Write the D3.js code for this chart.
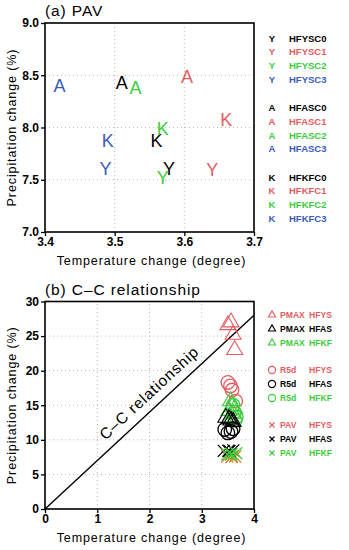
<!DOCTYPE html>
<html>
<head>
<meta charset="utf-8">
<script src="https://cdn.jsdelivr.net/npm/d3@7"></script>
<style>
  body { margin: 0; background: #fff; }
  text { font-family: "Liberation Sans", Arial, sans-serif; }
</style>
</head>
<body>
<div id="chart"></div>
<script>
// colours
const RED = "#e35d5f", GREEN = "#3ccc3c", BLUE = "#3a5cb8", BLACK = "#000";

// panel (a) PAV: letter markers (T, P)
const hfysT = [3.578, 3.640, 3.569, 3.487];
const hfysP = [7.60, 7.59, 7.52, 7.60];
const hfasT = [3.510, 3.604, 3.530, 3.421];
const hfasP = [8.43, 8.48, 8.375, 8.40];
const hfkfT = [3.560, 3.660, 3.569, 3.490];
const hfkfP = [7.87, 8.07, 7.99, 7.87];
const expColors = [BLACK, RED, GREEN, BLUE];

// panel (b) C-C relationship
const pmaxHfys = [[3.50, 26.6], [3.56, 27.0], [3.60, 25.2], [3.63, 23.0]];
const r5dHfys  = [[3.50, 18.3], [3.55, 17.8], [3.58, 17.2], [3.65, 15.6]];
const r5dHfkf  = [[3.62, 14.0], [3.66, 13.3], [3.60, 15.0], [3.64, 12.8]];
const pmaxHfkf = [[3.55, 15.6], [3.58, 14.8], [3.52, 14.2], [3.60, 13.8], [3.56, 13.2], [3.63, 14.5]];
const pmaxHfas = [[3.46, 13.2], [3.52, 13.0], [3.56, 12.8], [3.60, 12.6]];
const r5dHfas  = [[3.44, 11.5], [3.50, 11.0], [3.56, 11.2], [3.60, 11.6]];
const ccRate = 7; // % per degree

const svg = d3.select("#chart").append("svg")
  .attr("width", 349).attr("height", 550);

function frame(g, x, y, xTicks, yTicks, xFmt, yFmt) {
  const [x0, x1] = x.range(), [y0, y1] = y.range();
  // dotted grid
  g.selectAll(".gx").data(xTicks.slice(1, -1)).join("line")
    .attr("x1", d => x(d)).attr("x2", d => x(d)).attr("y1", y0).attr("y2", y1)
    .attr("stroke", "#b8b8b8").attr("stroke-dasharray", "1,3");
  g.selectAll(".gy").data(yTicks.slice(1, -1)).join("line")
    .attr("y1", d => y(d)).attr("y2", d => y(d)).attr("x1", x0).attr("x2", x1)
    .attr("stroke", "#b8b8b8").attr("stroke-dasharray", "1,3");

  const ax = g.append("g").attr("transform", `translate(0,${y0})`)
    .call(d3.axisBottom(x).tickValues(xTicks).tickFormat(xFmt).tickSize(4).tickPadding(1));
  const ay = g.append("g").attr("transform", `translate(${x0},0)`)
    .call(d3.axisLeft(y).tickValues(yTicks).tickFormat(yFmt).tickSize(4).tickPadding(2));
  [ax, ay].forEach(a => {
    a.select(".domain").remove();
    a.selectAll("line").attr("stroke-width", 1.3);
    a.selectAll("text").attr("font-size", 12).attr("font-weight", "bold").attr("fill", "#000");
  });
}

function box(g, x, y) {
  const [x0, x1] = x.range(), [y0, y1] = y.range();
  g.append("rect").attr("x", x0).attr("y", y1).attr("width", x1 - x0).attr("height", y0 - y1)
    .attr("fill", "none").attr("stroke", "#000").attr("stroke-width", 1.6);
}

function labels(g, title, tx, ty, x, y) {
  const [x0, x1] = x.range(), [y0, y1] = y.range();
  g.append("text").attr("x", tx).attr("y", ty).attr("font-size", 15.5)
    .attr("letter-spacing", 0.9).text(title);
  g.append("text").attr("x", (x0 + x1) / 2 + 2).attr("y", y0 + 33)
    .attr("text-anchor", "middle").attr("font-size", 12.5).attr("letter-spacing", 0.9)
    .text("Temperature change (degree)");
  g.append("text").attr("transform", `translate(16,${(y0 + y1) / 2}) rotate(-90)`)
    .attr("text-anchor", "middle").attr("font-size", 12.5).attr("letter-spacing", 0.9)
    .text("Precipitation change (%)");
}

// ---------- panel (a) ----------
const ga = svg.append("g");
const xa = d3.scaleLinear().domain([3.4, 3.7]).range([45, 254]);
const ya = d3.scaleLinear().domain([7.0, 9.0]).range([232, 23]);
frame(ga, xa, ya, [3.4, 3.5, 3.6, 3.7], [7.0, 7.5, 8.0, 8.5, 9.0], d3.format(".1f"), d3.format(".1f"));

const groupsA = [
  {sym: "Y", name: "HFYSC", T: hfysT, P: hfysP},
  {sym: "A", name: "HFASC", T: hfasT, P: hfasP},
  {sym: "K", name: "HFKFC", T: hfkfT, P: hfkfP}
];
groupsA.forEach(grp => {
  grp.T.forEach((t, i) => {
    ga.append("text").attr("x", xa(t)).attr("y", ya(grp.P[i]))
      .attr("text-anchor", "middle").attr("dominant-baseline", "central")
      .attr("font-size", 18).attr("fill", expColors[i]).text(grp.sym);
  });
});
box(ga, xa, ya);
labels(ga, "(a)  PAV", 45, 16, xa, ya);

// legend (a)
groupsA.forEach((grp, gi) => {
  expColors.forEach((c, i) => {
    const yy = 38 + gi * 69.5 + i * 13.8;
    ga.append("text").attr("x", 272).attr("y", yy).attr("text-anchor", "middle")
      .attr("dominant-baseline", "central").attr("font-size", 9.5).attr("font-weight", "bold")
      .attr("fill", c).text(grp.sym);
    ga.append("text").attr("x", 289).attr("y", yy)
      .attr("dominant-baseline", "central").attr("font-size", 9.5).attr("font-weight", "bold")
      .attr("fill", c).text(grp.name + i);
  });
});

// ---------- panel (b) ----------
const gb = svg.append("g");
const xb = d3.scaleLinear().domain([0, 4]).range([45, 254]);
const yb = d3.scaleLinear().domain([0, 30]).range([509, 301.5]);
frame(gb, xb, yb, [0, 1, 2, 3, 4], [0, 5, 10, 15, 20, 25, 30], d3.format("d"), d3.format("d"));

// C-C line
gb.append("line").attr("x1", xb(0)).attr("y1", yb(0)).attr("x2", xb(4)).attr("y2", yb(4 * ccRate))
  .attr("stroke", "#000").attr("stroke-width", 1.4);
const ang = Math.atan2(yb(0) - yb(4 * ccRate), xb(4) - xb(0)) * 180 / Math.PI;
gb.append("text")
  .attr("transform", `translate(${xb(2.18)},${yb(2.18 * ccRate)}) rotate(${-ang})`)
  .attr("y", -9).attr("text-anchor", "middle").attr("font-size", 15.5).attr("letter-spacing", 0.9)
  .text("C\u2013C relationship");

const tri = d3.symbol().type(d3.symbolTriangle);
function drawTri(data, color, size) {
  gb.selectAll(null).data(data).join("path")
    .attr("transform", d => `translate(${xb(d[0])},${yb(d[1])})`)
    .attr("d", tri.size(size)()).attr("fill", "none").attr("stroke", color).attr("stroke-width", 1.1);
}
function drawCirc(data, color, r) {
  gb.selectAll(null).data(data).join("circle")
    .attr("cx", d => xb(d[0])).attr("cy", d => yb(d[1])).attr("r", r)
    .attr("fill", "none").attr("stroke", color).attr("stroke-width", 1.3);
}
function drawCross(data, color, s) {
  gb.selectAll(null).data(data).join("path")
    .attr("transform", d => `translate(${xb(d[0])},${yb(d[1])})`)
    .attr("d", `M${-s},${-s}L${s},${s}M${-s},${s}L${s},${-s}`)
    .attr("stroke", color).attr("stroke-width", 1.3);
}

const pavHfys = hfysT.map((t, i) => [t, hfysP[i]]);
const pavHfas = hfasT.map((t, i) => [t, hfasP[i]]);
const pavHfkf = hfkfT.map((t, i) => [t, hfkfP[i]]);

drawTri(pmaxHfys, RED, 110);
drawCirc(r5dHfys, RED, 6.8);
drawCirc(r5dHfkf, GREEN, 6.8);
drawTri(pmaxHfkf, GREEN, 110);
drawTri(pmaxHfas, BLACK, 110);
drawCirc(r5dHfas, BLACK, 6.8);
drawCross(pavHfys, "#e8843c", 6);
drawCross(pavHfas, BLACK, 6);
drawCross(pavHfkf, GREEN, 6);

box(gb, xb, yb);
labels(gb, "(b)  C\u2013C relationship", 45, 295, xb, yb);

// legend (b)
const legB = [
  {kind: "tri", v: "PMAX"}, {kind: "circ", v: "R5d"}, {kind: "cross", v: "PAV"}
];
const legModels = [["HFYS", RED], ["HFAS", BLACK], ["HFKF", GREEN]];
legB.forEach((lg, gi) => {
  legModels.forEach(([m, c], i) => {
    const yy = 315 + gi * 55 + i * 14;
    if (lg.kind === "tri") {
      gb.append("path").attr("transform", `translate(272,${yy})`)
        .attr("d", tri.size(22)()).attr("fill", "none").attr("stroke", c).attr("stroke-width", 1.1);
    } else if (lg.kind === "circ") {
      gb.append("circle").attr("cx", 272).attr("cy", yy).attr("r", 3.6)
        .attr("fill", "none").attr("stroke", c).attr("stroke-width", 1.2);
    } else {
      gb.append("path").attr("d", `M269.5,${yy - 2.5}L274.5,${yy + 2.5}M269.5,${yy + 2.5}L274.5,${yy - 2.5}`)
        .attr("stroke", c).attr("stroke-width", 1.2);
    }
    gb.append("text").attr("x", 280).attr("y", yy).attr("dominant-baseline", "central")
      .attr("font-size", 8.6).attr("font-weight", "bold").attr("fill", c).text(lg.v);
    gb.append("text").attr("x", 309).attr("y", yy).attr("dominant-baseline", "central")
      .attr("font-size", 8.6).attr("font-weight", "bold").attr("fill", c).text(m);
  });
});
</script>
</body>
</html>
